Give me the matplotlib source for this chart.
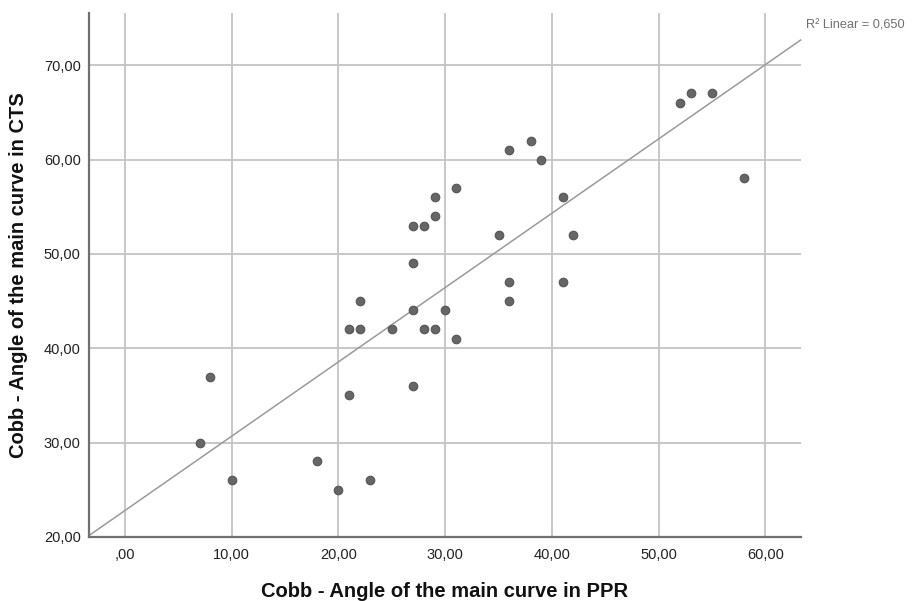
import numpy as np
import matplotlib
matplotlib.use("Agg")
from matplotlib import pyplot as plt
from matplotlib.ticker import FuncFormatter

# Cobb angles (PPR vs CTS)
ppr = [7, 8, 10, 18, 20, 23, 21, 21, 22, 22, 25, 27, 27, 28, 29, 30, 31, 27,
       27, 28, 29, 29, 31, 35, 36, 36, 36, 38, 39, 41, 41, 42, 52, 53, 55, 58]
cts = [30, 37, 26, 28, 25, 26, 35, 42, 42, 45, 42, 36, 44, 42, 42, 44, 41, 49,
       53, 53, 54, 56, 57, 52, 61, 47, 45, 62, 60, 56, 47, 52, 66, 67, 67, 58]
x_ticks = [0, 10, 20, 30, 40, 50, 60]
y_ticks = [20, 30, 40, 50, 60, 70]
r2_label = "R² Linear = 0,650"
x_label = "Cobb - Angle of the main curve in PPR"
y_label = "Cobb - Angle of the main curve in CTS"

plt.rcParams['font.family'] = ['Liberation Sans', 'DejaVu Sans']

def comma_fmt(v, pos):
    s = f"{v:.2f}".replace(".", ",")
    if s.startswith("0,"):
        s = s[1:]
    return s

fig = plt.figure(figsize=(9.14, 6.01), dpi=100)
ax = fig.add_axes([0.0974, 0.1065, 0.7786, 0.8715])
xlim = (-3.37, 63.3)
ax.set_xlim(*xlim)
ax.set_ylim(20, 75.5)

ax.grid(True, color="#c4c4c4", linewidth=1.3)
ax.set_axisbelow(True)
for side in ("top", "right"):
    ax.spines[side].set_visible(False)
for side in ("left", "bottom"):
    ax.spines[side].set_color("#707070")
    ax.spines[side].set_linewidth(1.6)

ax.set_xticks(x_ticks)
ax.set_yticks(y_ticks)
ax.xaxis.set_major_formatter(FuncFormatter(comma_fmt))
ax.yaxis.set_major_formatter(FuncFormatter(comma_fmt))
ax.tick_params(axis="x", length=0, labelsize=10.5, colors="#222222", pad=8)
ax.tick_params(axis="y", length=0, labelsize=10.5, colors="#222222", pad=6)

# linear fit
k, b = np.polyfit(ppr, cts, 1)
xs = np.array(xlim)
ax.plot(xs, k * xs + b, color="#9a9a9a", linewidth=1.1, clip_on=False, zorder=2)

ax.scatter(ppr, cts, s=38, color="#666666", edgecolors="#555555", linewidths=0.8, zorder=3)

fig.text(0.882, 0.958, r2_label, fontsize=9.2, color="#707070", ha="left", va="center")

ax.set_xlabel(x_label, fontsize=14.5, fontweight="bold", color="#111111")
ax.set_ylabel(y_label, fontsize=14.5, fontweight="bold", color="#111111")
ax.xaxis.set_label_coords(0.5, -0.086)
ax.yaxis.set_label_coords(-0.086, 0.5)

fig.savefig("out.png", dpi=100)
